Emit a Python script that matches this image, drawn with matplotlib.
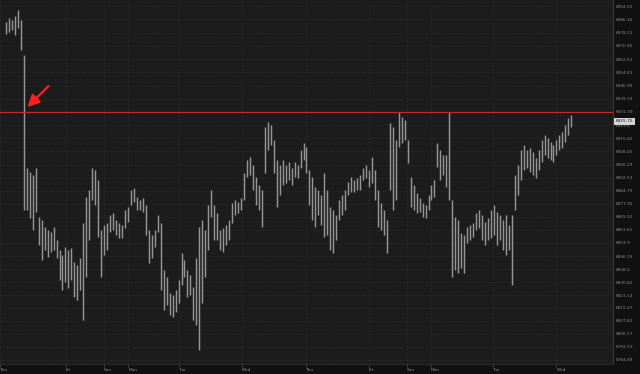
import numpy as np
import matplotlib
matplotlib.use("Agg")
import matplotlib.pyplot as plt
import matplotlib.transforms as mtrans

# ---- data ----
highs = [6984.6, 6986.9, 6985.7, 6988.1, 6991.7, 6985.7, 6965.1, 6898.2, 6895.9, 6894.1,
         6898.2, 6869.3, 6867.5, 6863.4, 6861.6, 6860.4, 6863.4, 6855.7, 6849.8, 6846.8,
         6851.5, 6849.8, 6850.9, 6842.7, 6840.9, 6845.0, 6865.7, 6881.1, 6885.2, 6898.2,
         6897.1, 6891.1, 6861.6, 6864.5, 6865.7, 6870.5, 6871.6, 6867.5, 6865.7, 6864.5,
         6873.4, 6875.2, 6885.2, 6886.4, 6881.1, 6879.3, 6880.5, 6876.4, 6861.6, 6858.6,
         6861.6, 6870.5, 6865.7, 6837.9, 6833.8, 6824.3, 6823.1, 6826.1, 6832.0, 6848.0,
         6843.8, 6837.9, 6835.0, 6827.9, 6845.0, 6863.4, 6867.5, 6861.6, 6876.4, 6885.2,
         6876.4, 6871.6, 6861.6, 6862.8, 6864.5, 6867.5, 6877.5, 6879.3, 6878.1, 6880.5,
         6895.3, 6903.0, 6904.7, 6900.0, 6892.9, 6888.2, 6885.2, 6922.5, 6925.4, 6923.7,
         6914.8, 6903.0, 6900.0, 6903.0, 6900.0, 6901.8, 6898.2, 6901.8, 6900.0, 6908.9,
         6913.0, 6910.7, 6897.1, 6892.9, 6887.0, 6885.2, 6882.3, 6895.3, 6885.2, 6875.2,
         6873.4, 6870.5, 6879.3, 6882.3, 6885.2, 6890.0, 6892.9, 6891.1, 6892.3, 6894.1,
         6898.2, 6900.0, 6897.1, 6904.7, 6897.1, 6885.2, 6877.5, 6873.4, 6867.5, 6924.8,
         6922.5, 6914.8, 6931.4, 6928.4, 6926.6, 6914.8, 6892.9, 6888.2, 6883.5, 6880.5,
         6877.5, 6876.4, 6882.3, 6888.2, 6891.1, 6913.0, 6908.9, 6905.9, 6905.9, 6931.4,
         6879.3, 6869.3, 6867.5, 6859.8, 6858.6, 6863.4, 6864.5, 6865.7, 6871.6, 6873.4,
         6870.5, 6866.3, 6868.7, 6873.4, 6876.4, 6872.2, 6870.5, 6867.5, 6870.5, 6864.5,
         6870.5, 6894.1, 6900.0, 6908.9, 6911.8, 6908.9, 6910.1, 6907.7, 6904.2, 6908.9,
         6914.8, 6917.7, 6916.0, 6913.6, 6911.8, 6914.8, 6917.7, 6919.5, 6923.7, 6927.8,
         6929.6]
lows = [6977.5, 6978.7, 6979.8, 6976.9, 6981.0, 6968.0, 6873.4, 6873.4, 6868.7, 6861.6,
        6872.2, 6852.7, 6843.8, 6849.8, 6845.6, 6848.6, 6849.8, 6845.0, 6832.0, 6826.1,
        6830.8, 6827.3, 6832.0, 6822.0, 6820.2, 6826.1, 6808.4, 6833.8, 6855.7, 6879.3,
        6876.4, 6857.5, 6833.8, 6846.8, 6849.8, 6860.4, 6861.6, 6858.6, 6856.9, 6856.9,
        6862.8, 6866.3, 6876.4, 6878.1, 6873.4, 6873.4, 6872.2, 6858.6, 6842.1, 6845.0,
        6851.5, 6860.4, 6826.1, 6814.3, 6817.2, 6811.3, 6810.1, 6813.1, 6818.4, 6829.1,
        6833.8, 6822.0, 6823.1, 6808.4, 6805.4, 6790.6, 6818.4, 6833.8, 6849.8, 6869.3,
        6855.7, 6855.7, 6849.8, 6848.6, 6852.7, 6855.7, 6865.7, 6870.5, 6871.6, 6873.4,
        6879.3, 6892.9, 6894.1, 6885.2, 6876.4, 6873.4, 6863.4, 6895.3, 6908.9, 6911.8,
        6895.3, 6875.2, 6882.3, 6888.2, 6889.4, 6891.1, 6888.2, 6892.9, 6892.3, 6898.2,
        6903.0, 6895.3, 6876.4, 6867.5, 6863.4, 6870.5, 6864.5, 6857.5, 6858.6, 6849.8,
        6848.0, 6855.7, 6867.5, 6870.5, 6873.4, 6882.3, 6884.1, 6884.1, 6885.2, 6885.2,
        6891.1, 6892.3, 6887.0, 6889.4, 6879.3, 6863.4, 6861.6, 6858.6, 6848.0, 6885.2,
        6873.4, 6879.3, 6910.7, 6913.0, 6914.8, 6901.2, 6875.2, 6873.4, 6871.6, 6872.2,
        6869.3, 6868.7, 6873.4, 6879.3, 6881.1, 6898.8, 6891.1, 6894.1, 6887.0, 6879.3,
        6833.8, 6837.9, 6836.2, 6839.1, 6836.2, 6853.9, 6855.7, 6857.5, 6861.6, 6862.8,
        6855.7, 6852.7, 6855.7, 6856.9, 6858.6, 6852.7, 6855.7, 6849.8, 6846.8, 6849.8,
        6829.1, 6873.4, 6882.3, 6891.1, 6897.1, 6898.2, 6895.9, 6894.1, 6892.3, 6897.1,
        6901.8, 6905.9, 6904.2, 6903.0, 6901.8, 6905.9, 6908.9, 6910.1, 6913.6, 6917.7,
        6922.5]

y_ticks = [6994.02, 6986.16, 6978.31, 6970.46, 6962.63, 6954.81, 6946.99, 6939.19,
           6931.39, 6923.6, 6915.82, 6908.05, 6900.29, 6892.53, 6884.79, 6877.05,
           6869.32, 6861.61, 6853.9, 6846.19, 6838.5, 6830.82, 6823.14, 6815.47,
           6807.82, 6800.17, 6792.53, 6784.89]
day_labels = ["Thu", "Fri", "Sun", "Mon", "Tue", "Wed", "Thu", "Fri", "Sun", "Mon", "Tue", "Wed"]
day_pos = [-2.0, 20.2, 32.8, 41.1, 58.3, 79.4, 100.8, 121.9, 134.7, 142.8, 163.8, 185.0]
level = 6931.39
last_price = 6925.75

# ---- figure ----
W, H = 640, 374
fig = plt.figure(figsize=(W / 100, H / 100), dpi=100)
fig.patch.set_facecolor("#111111")
ax = fig.add_axes([0, 10 / H, 613 / W, 1 - 10 / H])
ax.set_facecolor("#1c1c1c")

x = np.arange(len(highs))
ax.vlines(x, lows, highs, color="#959595", lw=1.05)

ax.set_xlim(-0.33, 204)
ax.set_ylim(6782.35, 6997.57)

# grid
for v in y_ticks:
    ax.axhline(v, color="#353535", lw=0.6, ls=(0, (1, 2.5)), zorder=0)
for p in day_pos:
    ax.axvline(p, color="#353535", lw=0.6, ls=(0, (1, 2.5)), zorder=0)

ax.axhline(level, color="#c62828", lw=0.9, zorder=3)

# arrow
ax.annotate("", xy=(7.25, 6934.3), xytext=(14.3, 6946.7),
            arrowprops=dict(arrowstyle="-|>,head_length=0.7,head_width=0.35",
                            color="#ff1f1f", lw=1.6, mutation_scale=10,
                            shrinkA=0, shrinkB=0), zorder=5)

# axes styling
ax.yaxis.tick_right()
ax.set_yticks(y_ticks)
ax.set_yticklabels([f"{v:g}" for v in y_ticks])
ax.tick_params(axis="y", length=0, pad=2, labelsize=3.1, labelcolor="#8a8a8a")
ax.set_xticks(day_pos)
ax.set_xticklabels(day_labels, ha="left")
ax.tick_params(axis="x", length=2, width=0.5, color="#555555", pad=1,
               labelsize=3.1, labelcolor="#8a8a8a")
for s in ["top", "left"]:
    ax.spines[s].set_visible(False)
ax.spines["right"].set_color("#3a3a3a")
ax.spines["right"].set_linewidth(0.8)
ax.spines["bottom"].set_color("#2a2a2a")
ax.spines["bottom"].set_linewidth(0.8)

# last price tag
tr = mtrans.blended_transform_factory(ax.transAxes, ax.transData)
ax.text(1.004, last_price, f"{last_price:.2f}", transform=tr, fontsize=3.1,
        color="#1a1a1a", va="center", ha="left", clip_on=False, zorder=10,
        bbox=dict(boxstyle="square,pad=0.35", fc="#d4d4d4", ec="none"))

fig.savefig("out.png", dpi=100, facecolor=fig.get_facecolor())
